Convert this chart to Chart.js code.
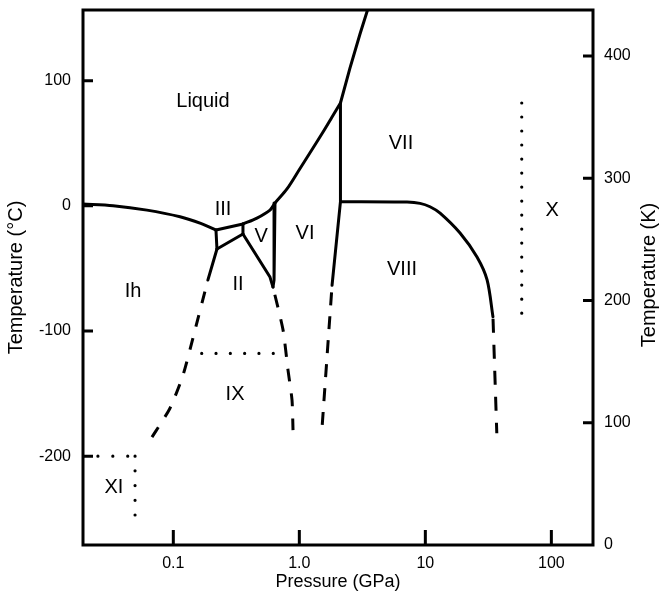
<!DOCTYPE html>
<html>
<head>
<meta charset="utf-8">
<script src="https://cdn.jsdelivr.net/npm/chart.js@4.4.0/dist/chart.umd.min.js"></script>
<style>
  html, body { margin: 0; padding: 0; background: #fff; }
  canvas { display: block; }
</style>
</head>
<body>
<canvas id="myChart" width="659" height="596"></canvas>
<script>
// pressure in GPa, temperature in degrees C
const ihMeltP = [0.0192, 0.0333, 0.0618, 0.113, 0.165, 0.218];
const ihMeltT = [1.4, 0.1, -3.4, -8.7, -14, -19.3];

const iiiLiqP = [0.218, 0.357];
const iiiLiqT = [-19.3, -14.5];
const ihIiiP = [0.218, 0.222];
const ihIiiT = [-19.3, -34.5];
const iiiIiP = [0.222, 0.357];
const iiiIiT = [-34.5, -22.5];
const iiiVP = [0.357, 0.357];
const iiiVT = [-14.5, -22.5];
const vIiP = [0.357, 0.585, 0.618];
const vIiT = [-22.5, -56.9, -64.9];
const vViP = [0.641, 0.63, 0.618];
const vViT = [2.2, -59.3, -64.9];

// melting curve up to the VI-VII-liquid point, then on to the top
const liquidP = [0.357, 0.461, 0.585, 0.641, 0.798, 1.013, 1.284, 1.542, 1.818, 2.12];
const liquidT = [-14.5, -9.8, -3.4, 2.2, 13.5, 29.9, 46.2, 59.0, 71.0, 82.2];
const liquidHighP = [2.12, 2.525, 3.03, 3.477];
const liquidHighT = [82.2, 110.2, 137.3, 156.5];

const ihIiP = [0.222, 0.188];
const ihIiT = [-34.5, -59.3];
const ihIiDashP = [0.188, 0.1486, 0.1194, 0.0941, 0.0677];
const ihIiDashT = [-59.3, -99.3, -135.3, -161.7, -184.8];
const iiViDashP = [0.618, 0.743, 0.813, 0.875, 0.891];
const iiViDashT = [-64.9, -99.3, -131.3, -155.2, -179.2];
const ixP = [0.168, 0.622];
const ixT = [-117.9, -117.9];

const viViiP = [2.12, 2.12];
const viViiT = [82.2, 3.3];
const viViiiP = [2.12, 1.818];
const viViiiT = [3.3, -63.5];
const viViiiDashP = [1.818, 1.514];
const viViiiDashT = [-63.5, -177.6];
const viiViiiP = [2.12, 7.16, 9.08, 10.89, 13.09, 18.85, 25.7, 30.9, 34.4];
const viiViiiT = [3.3, 3.0, 2.0, -0.7, -5.8, -21.7, -40.9, -59.2, -88.6];
const viiiDashP = [34.4, 36.9];
const viiiDashT = [-88.6, -181.7];
const xP = [58.2, 58.2];
const xT = [82.2, -85.9];
const xiTopP = [0.0192, 0.0497];
const xiTopT = [-200, -200];
const xiSideP = [0.0497, 0.0497];
const xiSideT = [-200, -247.1];

const phaseNames = ["Liquid", "III", "V", "VI", "Ih", "II", "IX", "VII", "VIII", "X", "XI"];
const phaseP = [0.172, 0.248, 0.497, 1.11, 0.0479, 0.326, 0.309, 6.41, 6.53, 101.3, 0.0338];
const phaseT = [83.0, -2.6, -24.1, -21.7, -68.1, -62.5, -150.4, 50.2, -50.5, -3.4, -225.4];

const xTicks = [0.1, 1, 10, 100];
const xTickLabels = ["0.1", "1.0", "10", "100"];
const yTicks = [-200, -100, 0, 100];
const kTicks = [0, 100, 200, 300, 400];

const FONT = "'Liberation Sans', Arial, sans-serif";

function pts(P, T) {
  return P.map((p, i) => ({ x: p, y: T[i] }));
}

function solid(P, T, tension) {
  return {
    data: pts(P, T),
    showLine: true,
    pointRadius: 0,
    borderColor: "#000",
    borderWidth: 3,
    tension: tension || 0,
    borderCapStyle: "round",
    borderJoinStyle: "round",
  };
}

function dashed(P, T, dash, offset, tension) {
  const ds = solid(P, T, tension);
  ds.borderCapStyle = "butt";
  ds.borderDash = dash;
  ds.borderDashOffset = offset;
  return ds;
}

function dotted(P, T, gap) {
  const ds = solid(P, T, 0);
  ds.borderDash = [0.01, gap];
  ds.borderWidth = 3.2;
  return ds;
}

const datasets = [
  solid(ihMeltP, ihMeltT, 0.3),
  solid(iiiLiqP, iiiLiqT),
  solid(ihIiiP, ihIiiT),
  solid(iiiIiP, iiiIiT),
  solid(iiiVP, iiiVT),
  solid(vIiP, vIiT),
  solid(vViP, vViT),
  solid(liquidP, liquidT, 0.3),
  solid(liquidHighP, liquidHighT),
  solid(ihIiP, ihIiT),
  dashed(ihIiDashP, ihIiDashT, [12, 12], 12, 0.2),
  dashed(iiViDashP, iiViDashT, [13, 12], 17, 0.2),
  dotted(ixP, ixT, 14.3),
  solid(viViiP, viViiT),
  solid(viViiiP, viViiiT),
  dashed(viViiiDashP, viViiiDashT, [13, 11], 17),
  solid(viiViiiP, viiViiiT, 0.3),
  dashed(viiiDashP, viiiDashT, [14, 12], 24),
  dotted(xP, xT, 14.0),
  dotted(xiTopP, xiTopT, 14.9),
  dotted(xiSideP, xiSideT, 14.7),
];

// frame, inward tick marks, right-hand title and the phase names
const frameAndLabels = {
  id: "frameAndLabels",
  afterDatasetsDraw(chart) {
    const { ctx, chartArea: a, scales } = chart;
    ctx.save();
    ctx.strokeStyle = "#000";
    ctx.lineWidth = 3;
    ctx.lineCap = "butt";
    ctx.setLineDash([]);
    ctx.strokeRect(a.left, a.top, a.right - a.left, a.bottom - a.top);
    ctx.beginPath();
    yTicks.forEach((v) => {
      const y = scales.y.getPixelForValue(v);
      ctx.moveTo(a.left, y);
      ctx.lineTo(a.left + 10, y);
    });
    kTicks.slice(1).forEach((v) => {
      const y = scales.y2.getPixelForValue(v);
      ctx.moveTo(a.right, y);
      ctx.lineTo(a.right - 10, y);
    });
    xTicks.forEach((v) => {
      const x = scales.x.getPixelForValue(v);
      ctx.moveTo(x, a.bottom);
      ctx.lineTo(x, a.bottom - 15);
    });
    ctx.stroke();

    ctx.fillStyle = "#000";
    ctx.font = "20px " + FONT;
    ctx.textAlign = "center";
    ctx.textBaseline = "middle";
    phaseNames.forEach((n, i) => {
      ctx.fillText(n, scales.x.getPixelForValue(phaseP[i]), scales.y.getPixelForValue(phaseT[i]));
    });

    // right title reads bottom to top, like the left one
    ctx.translate(649, 275);
    ctx.rotate(-Math.PI / 2);
    ctx.fillText("Temperature (K)", 0, 0);
    ctx.restore();
  },
};

const ctx = document.getElementById("myChart").getContext("2d");
const myChart = new Chart(ctx, {
  type: "scatter",
  data: { datasets: datasets },
  options: {
    responsive: false,
    animation: false,
    layout: { padding: { top: 10, left: 0, right: 0, bottom: 0 } },
    plugins: { legend: { display: false }, tooltip: { enabled: false } },
    scales: {
      x: {
        type: "logarithmic",
        min: 0.0192,
        max: 214,
        grid: { display: false, drawTicks: false },
        border: { display: false },
        afterBuildTicks: (s) => { s.ticks = xTicks.map((v) => ({ value: v })); },
        afterFit: (s) => { s.height = 51; s.paddingLeft = 0; s.paddingRight = 0; },
        ticks: {
          color: "#000",
          padding: 9,
          maxRotation: 0,
          font: { family: FONT, size: 16 },
          callback: (v, i) => xTickLabels[i],
        },
        title: {
          display: true,
          text: "Pressure (GPa)",
          color: "#000",
          font: { family: FONT, size: 18 },
          padding: { top: 0, bottom: 3 },
        },
      },
      y: {
        position: "left",
        min: -271,
        max: 156.5,
        grid: { display: false, drawTicks: false },
        border: { display: false },
        afterBuildTicks: (s) => { s.ticks = yTicks.map((v) => ({ value: v })); },
        afterFit: (s) => { s.width = 83; s.paddingTop = 0; s.paddingBottom = 0; },
        ticks: {
          color: "#000",
          padding: 12,
          font: { family: FONT, size: 16 },
          callback: (v) => String(v),
        },
        title: {
          display: true,
          text: "Temperature (°C)",
          color: "#000",
          font: { family: FONT, size: 20 },
          padding: { top: 4, bottom: 0 },
        },
      },
      y2: {
        position: "right",
        min: 0,
        max: 437.6,
        grid: { display: false, drawTicks: false },
        border: { display: false },
        afterBuildTicks: (s) => { s.ticks = kTicks.map((v) => ({ value: v })); },
        afterFit: (s) => { s.width = 66; s.paddingTop = 0; s.paddingBottom = 0; },
        ticks: {
          color: "#000",
          padding: 11,
          font: { family: FONT, size: 16 },
          callback: (v) => String(v),
        },
        title: { display: false },
      },
    },
  },
  plugins: [frameAndLabels],
});
</script>
</body>
</html>
